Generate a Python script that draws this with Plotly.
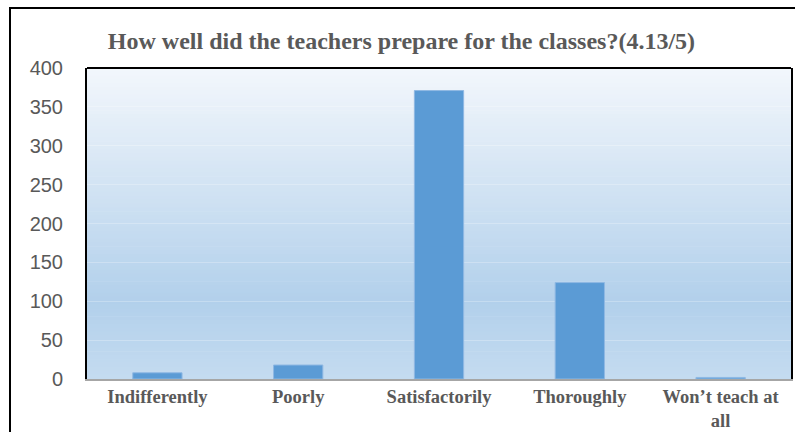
import plotly.graph_objects as go

categories = ["Indifferently", "Poorly", "Satisfactorily", "Thoroughly", "Won’t teach at<br>all"]
values = [8, 18, 371, 124, 2]
y_ticks = [0, 50, 100, 150, 200, 250, 300, 350, 400]

W, H = 795, 432
L, R, T, B = 87, 4, 68, 53
pw = W - L - R
ph = H - T - B

fig = go.Figure()
fig.add_trace(go.Bar(
    x=categories, y=values,
    marker=dict(color="#5B9BD5", line=dict(color="#8FB8E3", width=1)),
    width=0.35,
))

# gradient background stripes
stops = [(0.0, (243, 247, 252)), (0.75, (178, 208, 235)), (1.0, (196, 219, 240))]  # from top
def col(t):
    for i in range(len(stops) - 1):
        a, ca = stops[i]
        b, cb = stops[i + 1]
        if a <= t <= b:
            f = (t - a) / (b - a) if b > a else 0
            return "rgb(%d,%d,%d)" % tuple(round(ca[k] + (cb[k] - ca[k]) * f) for k in range(3))
    return "rgb(%d,%d,%d)" % stops[-1][1]

n = 80
shapes = []
for i in range(n):
    t = (i + 0.5) / n
    shapes.append(dict(type="rect", xref="x domain", yref="y domain",
                       x0=0, x1=1, y0=1 - (i + 1) / n, y1=1 - i / n + 0.002,
                       fillcolor=col(t), line=dict(width=0), layer="below"))
# top border of plot
shapes.append(dict(type="line", xref="paper", yref="paper", x0=0, x1=1, y0=1, y1=1,
                   line=dict(color="black", width=2)))
# outer chart frame
shapes.append(dict(type="rect", xref="paper", yref="paper",
                   x0=(10 - L) / pw, x1=(W + 20 - L) / pw,
                   y0=-(H + 20 - T - ph) / ph, y1=1 + (T - 8) / ph,
                   line=dict(color="black", width=2), fillcolor="rgba(0,0,0,0)"))

fig.update_layout(
    width=W, height=H,
    margin=dict(l=L, r=R, t=T, b=B, autoexpand=False),
    paper_bgcolor="white",
    plot_bgcolor="rgba(0,0,0,0)",
    shapes=shapes,
    showlegend=False,
    bargap=0.65,
    title=dict(text="<b>How well did the teachers prepare for the classes?(4.13/5)</b>",
               x=0.505, xanchor="center", y=1 - 40.6 / H, yanchor="middle",
               font=dict(family="Liberation Serif", size=24, color="#595959")),
    xaxis=dict(showline=True, linecolor="#A6A6A6", linewidth=2, showgrid=False,
               tickfont=dict(family="Liberation Serif", size=18.5, color="#595959", weight="bold"),
               ticks="", ticklabelstandoff=0, fixedrange=True, automargin=False),
    yaxis=dict(range=[0, 400], tickvals=y_ticks, showline=True, mirror=True,
               linecolor="black", linewidth=2,
               showgrid=True, gridcolor="rgba(255,255,255,0.25)", gridwidth=1,
               zeroline=False, automargin=False,
               tickfont=dict(family="Liberation Sans", size=20, color="#595959"),
               ticks="", ticklabelstandoff=18),
)

fig.write_html("out.html", config={"displayModeBar": False},
               post_script="document.body.style.margin='0';document.body.style.overflow='hidden';")
